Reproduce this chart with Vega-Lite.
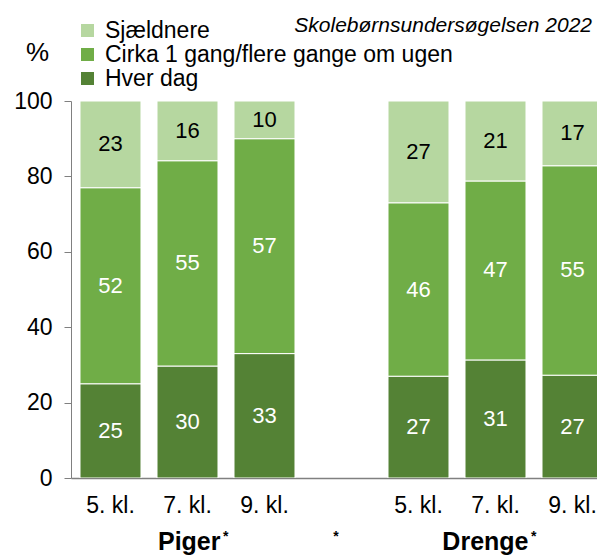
{
  "$schema": "https://vega.github.io/schema/vega-lite/v6.json",
  "autosize": "none",
  "width": 526,
  "height": 377,
  "padding": {"left": 71, "top": 101, "right": 0, "bottom": 77},
  "config": {
    "view": {"stroke": null},
    "font": "Liberation Sans",
    "axis": {"labelFont": "Liberation Sans", "titleFont": "Liberation Sans", "labelColor": "#000000", "titleColor": "#000000"},
    "legend": {"labelFont": "Liberation Sans"}
  },
  "title": {
    "text": "Skolebørnsundersøgelsen 2022",
    "anchor": "end",
    "frame": "group",
    "fontStyle": "italic",
    "fontWeight": "normal",
    "fontSize": 21,
    "font": "Liberation Sans",
    "color": "#000000",
    "dx": -5,
    "offset": -17
  },
  "datasets": {
    "main": [
      {"kol": "Piger 5. kl.", "kategori": "Hver dag", "pct": 25},
      {"kol": "Piger 5. kl.", "kategori": "Cirka 1 gang/flere gange om ugen", "pct": 52},
      {"kol": "Piger 5. kl.", "kategori": "Sjældnere", "pct": 23},
      {"kol": "Piger 7. kl.", "kategori": "Hver dag", "pct": 30},
      {"kol": "Piger 7. kl.", "kategori": "Cirka 1 gang/flere gange om ugen", "pct": 55},
      {"kol": "Piger 7. kl.", "kategori": "Sjældnere", "pct": 16},
      {"kol": "Piger 9. kl.", "kategori": "Hver dag", "pct": 33},
      {"kol": "Piger 9. kl.", "kategori": "Cirka 1 gang/flere gange om ugen", "pct": 57},
      {"kol": "Piger 9. kl.", "kategori": "Sjældnere", "pct": 10},
      {"kol": "Drenge 5. kl.", "kategori": "Hver dag", "pct": 27},
      {"kol": "Drenge 5. kl.", "kategori": "Cirka 1 gang/flere gange om ugen", "pct": 46},
      {"kol": "Drenge 5. kl.", "kategori": "Sjældnere", "pct": 27},
      {"kol": "Drenge 7. kl.", "kategori": "Hver dag", "pct": 31},
      {"kol": "Drenge 7. kl.", "kategori": "Cirka 1 gang/flere gange om ugen", "pct": 47},
      {"kol": "Drenge 7. kl.", "kategori": "Sjældnere", "pct": 21},
      {"kol": "Drenge 9. kl.", "kategori": "Hver dag", "pct": 27},
      {"kol": "Drenge 9. kl.", "kategori": "Cirka 1 gang/flere gange om ugen", "pct": 55},
      {"kol": "Drenge 9. kl.", "kategori": "Sjældnere", "pct": 17}
    ],
    "grupper": [
      {"kol": "Piger 7. kl.", "label": "Piger"},
      {"kol": "Drenge 7. kl.", "label": "Drenge"}
    ],
    "stjerner": [
      {"kol": "Piger 7. kl.", "label": "*"},
      {"kol": "Drenge 7. kl.", "label": "*"}
    ],
    "midtstjerne": [
      {"kol": "-", "label": "*"}
    ]
  },
  "layer": [
    {
      "data": {"name": "main"},
      "transform": [
        {"calculate": "indexof(['Hver dag','Cirka 1 gang/flere gange om ugen','Sjældnere'], datum.kategori)", "as": "ord"},
        {"stack": "pct", "groupby": ["kol"], "sort": [{"field": "ord", "order": "ascending"}], "as": ["y0", "y1"], "offset": "normalize"},
        {"calculate": "datum.y0 * 100", "as": "y0p"},
        {"calculate": "datum.y1 * 100", "as": "y1p"}
      ],
      "mark": {"type": "bar", "clip": true, "stroke": "#ffffff", "strokeWidth": 1},
      "encoding": {
        "x": {
          "field": "kol", "type": "nominal",
          "scale": {"domain": ["Piger 5. kl.", "Piger 7. kl.", "Piger 9. kl.", "-", "Drenge 5. kl.", "Drenge 7. kl.", "Drenge 9. kl."], "range": [0, 541], "paddingInner": 0.208, "paddingOuter": 0.117},
          "axis": {
            "title": null, "labelAngle": 0, "ticks": false, "domainColor": "#808080", "domainWidth": 1.5,
            "labelFontSize": 23, "labelPadding": 16,
            "labelExpr": "datum.label == '-' ? '' : slice(datum.label, -6)"
          }
        },
        "y": {
          "field": "y0p", "type": "quantitative",
          "scale": {"domain": [0, 100], "nice": false},
          "axis": {
            "values": [0, 20, 40, 60, 80, 100], "grid": false, "tickSize": 7, "tickColor": "#808080", "domainColor": "#808080",
            "labelFontSize": 23, "labelPadding": 12,
            "title": "%", "titleAngle": 0, "titleX": -34, "titleY": -49, "titleAlign": "center", "titleBaseline": "middle",
            "titleFontSize": 26, "titleFontWeight": "normal"
          }
        },
        "y2": {"field": "y1p"},
        "color": {
          "field": "kategori", "type": "nominal",
          "scale": {"domain": ["Sjældnere", "Cirka 1 gang/flere gange om ugen", "Hver dag"], "range": ["#B6D7A0", "#70AD47", "#548235"]},
          "legend": {
            "title": null, "orient": "none", "legendX": 5, "legendY": -82, "direction": "vertical",
            "symbolType": "square", "symbolSize": 169, "symbolStrokeWidth": 0, "labelFontSize": 23, "labelColor": "#000000",
            "labelLimit": 600, "rowPadding": -1, "labelOffset": 6, "padding": 0
          }
        }
      }
    },
    {
      "data": {"name": "main"},
      "transform": [
        {"calculate": "indexof(['Hver dag','Cirka 1 gang/flere gange om ugen','Sjældnere'], datum.kategori)", "as": "ord"},
        {"stack": "pct", "groupby": ["kol"], "sort": [{"field": "ord", "order": "ascending"}], "as": ["y0", "y1"], "offset": "normalize"},
        {"calculate": "(datum.y0 + datum.y1) * 50", "as": "ymid"}
      ],
      "mark": {"type": "text", "fontSize": 22, "baseline": "middle", "align": "center"},
      "encoding": {
        "x": {"field": "kol", "type": "nominal"},
        "y": {"field": "ymid", "type": "quantitative"},
        "text": {"field": "pct", "type": "quantitative"},
        "color": {"condition": {"test": "datum.kategori == 'Sjældnere'", "value": "#000000"}, "value": "#ffffff"}
      }
    },
    {
      "data": {"name": "grupper"},
      "mark": {"type": "text", "fontSize": 25, "fontWeight": "bold", "align": "right", "baseline": "alphabetic", "dx": 33, "color": "#000000"},
      "encoding": {
        "x": {"field": "kol", "type": "nominal"},
        "y": {"datum": -19.1},
        "text": {"field": "label"}
      }
    },
    {
      "data": {"name": "stjerner"},
      "mark": {"type": "text", "fontSize": 14, "fontWeight": "bold", "align": "left", "baseline": "alphabetic", "dx": 35.5, "color": "#000000"},
      "encoding": {
        "x": {"field": "kol", "type": "nominal"},
        "y": {"datum": -16.8},
        "text": {"field": "label"}
      }
    },
    {
      "data": {"name": "midtstjerne"},
      "mark": {"type": "text", "fontSize": 14, "fontWeight": "bold", "align": "center", "baseline": "alphabetic", "dx": -5.5, "color": "#000000"},
      "encoding": {
        "x": {"field": "kol", "type": "nominal"},
        "y": {"datum": -16.8},
        "text": {"field": "label"}
      }
    }
  ]
}
